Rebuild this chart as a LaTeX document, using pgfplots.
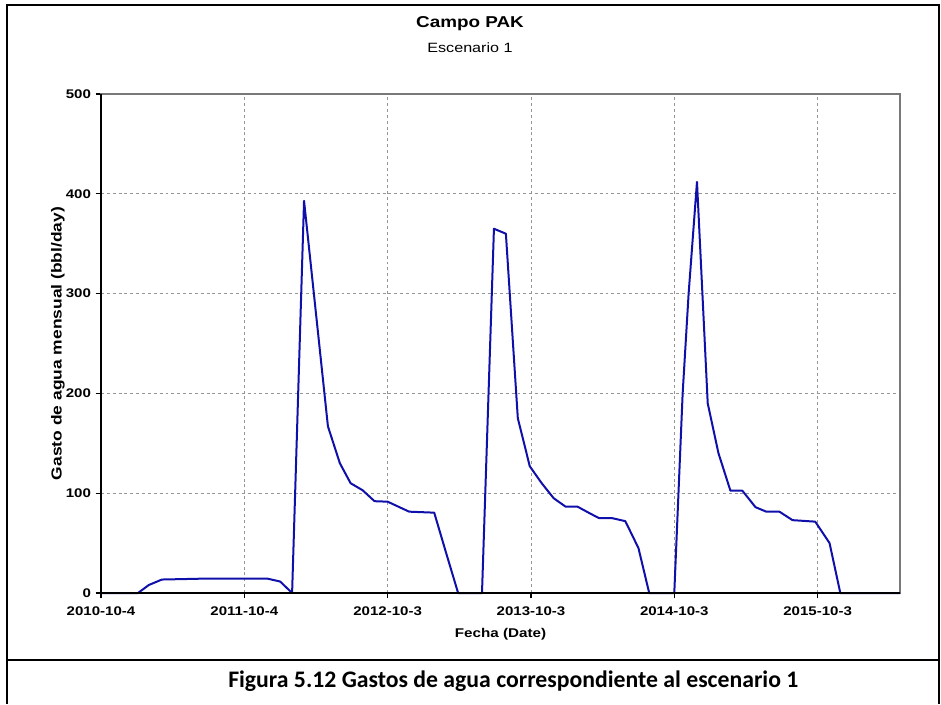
\documentclass[border=0pt]{standalone}
\usepackage{fontspec}
\setmainfont{Liberation Sans}[FakeStretch=1.2]
\newfontfamily\capfont{Carlito}
\usepackage{pgfplots}
\pgfplotsset{compat=1.18}

\definecolor{linea}{RGB}{15,15,170}
\definecolor{rejilla}{RGB}{150,150,150}
\definecolor{marco}{RGB}{120,120,120}

\begin{document}
\begin{tikzpicture}
  % page = 941 x 704 px, 1px = 0.75pt
  \useasboundingbox (0,0) rectangle (705.75pt,528pt);
  \draw[line width=1.5pt] (5.25pt,0) -- (5.25pt,524pt) -- (704.25pt,524pt) -- (704.25pt,0);
  \draw[line width=1.5pt] (5.25pt,33pt) -- (704.25pt,33pt);
  \node[anchor=base, font=\capfont\bfseries\fontsize{17.8}{20}\selectfont] at (385pt,12.5pt)
    {Figura 5.12 Gastos de agua correspondiente al escenario 1};

  \node[font=\bfseries\fontsize{11.8}{14}\selectfont] at (352.5pt,510pt) {Campo PAK};
  \node[font=\fontsize{10.1}{12}\selectfont] at (352.5pt,492pt) {Escenario 1};

  \begin{axis}[
    at={(75.75pt,83.25pt)}, anchor=south west,
    scale only axis,
    width=599.25pt, height=374.25pt,
    xmin=0, xmax=66.9,
    ymin=0, ymax=500,
    xtick={0,12,24,36,48,60},
    xticklabels={2010-10-4,2011-10-4,2012-10-3,2013-10-3,2014-10-3,2015-10-3},
    ytick={0,100,200,300,400,500},
    xtick pos=bottom, ytick pos=left,
    tick align=outside,
    major tick length=4pt,
    tick style={black, line width=1pt},
    axis line style={marco, line width=1.1pt},
    grid=major,
    major grid style={rejilla, line width=0.7pt, dash pattern=on 2.2pt off 2.2pt},
    ticklabel style={font=\bfseries\fontsize{9.4}{11}\selectfont},
    /pgf/number format/assume math mode=true,
    xticklabel style={yshift=-2.5pt},
    xlabel={Fecha (Date)},
    ylabel={Gasto de agua mensual (bbl/day)},
    xlabel style={font=\bfseries\fontsize{9.5}{11}\selectfont, yshift=-3pt},
    ylabel style={font=\bfseries\fontsize{10.9}{12}\selectfont, yshift=-6pt},
    clip=false,
  ]
    \addplot[linea, line width=1.5pt, line join=round] coordinates {
      (0,0) (3.1,0) (4,8) (5.1,13.5) (9,14.5) (13.9,14.5) (15,11.5) (16,0)
      (17,393) (18,280) (19,167) (20,130) (20.9,110) (21.9,103) (22.9,92)
      (24,91.5) (25.8,81.5) (27.9,80.5) (28.9,40) (29.9,0) (31.9,0)
      (32.9,365) (33.9,360) (34.9,175) (35.9,127) (36.9,110) (37.9,95)
      (38.9,86.5) (39.9,86.5) (40.9,80) (41.7,75) (42.8,75) (43.9,72)
      (45,45) (45.9,0) (48,0) (48.7,200) (49.2,300) (49.9,412) (50.8,190)
      (51.7,140) (52.7,102.5) (53.7,102.5) (54.8,86) (55.7,81.5) (56.8,81.5)
      (57.9,73) (59.8,71.5) (61,50) (61.9,0) (66.9,0)
    };
    \draw[black, line width=1.5pt] (rel axis cs:0,1) -- (rel axis cs:0,0) -- (rel axis cs:1,0);
  \end{axis}
\end{tikzpicture}
\end{document}
